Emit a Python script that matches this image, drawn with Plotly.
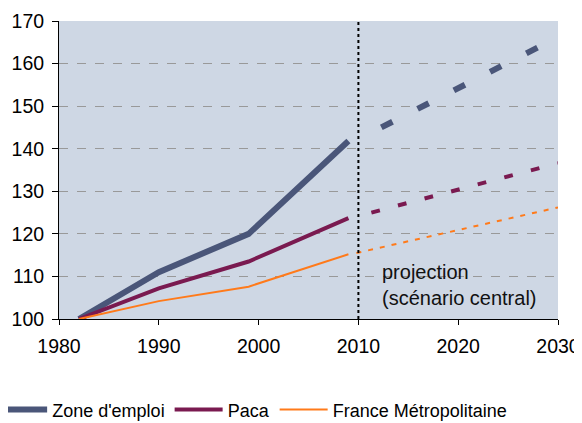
import plotly.graph_objects as go

# observed values (index 100 = 1982)
years_obs = [1982, 1990, 1999, 2009]
zone_obs = [100, 111, 120, 141.8]
paca_obs = [100, 107.2, 113.5, 123.7]
france_obs = [100, 104.2, 107.6, 115.2]

# projections (scénario central), from the first drawn dash to the last
zone_proj_years = [2012.3, 2028]
zone_proj = [145.0, 163.8]
paca_proj_years = [2011.3, 2030]
paca_proj = [125.0, 136.6]
france_proj_years = [2009.8, 2030]
france_proj = [115.5, 126.2]

names = ["Zone d'emploi", "Paca", "France Métropolitaine"]
colors = ["#4A5679", "#7A1A50", "#FF7A1A"]
widths = [6, 4, 2]

fig = go.Figure()

obs = [zone_obs, paca_obs, france_obs]
proj = [(zone_proj_years, zone_proj), (paca_proj_years, paca_proj), (france_proj_years, france_proj)]
dashes = ["12.5px,28.2px", "8.8px,18.7px", "5px,7px"]

for i in range(3):
    fig.add_trace(go.Scatter(x=years_obs, y=obs[i], mode="lines", name=names[i],
                             line=dict(color=colors[i], width=widths[i])))
    fig.add_trace(go.Scatter(x=proj[i][0], y=proj[i][1], mode="lines", showlegend=False,
                             line=dict(color=colors[i], width=widths[i], dash=dashes[i])))

# vertical separator at 2010
fig.add_shape(type="line", x0=2010, x1=2010, y0=100, y1=170, xref="x", yref="y",
              line=dict(color="black", width=2, dash="dot"))

fig.add_annotation(x=2012.2, y=108.1, xref="x", yref="y", xanchor="left", yanchor="middle",
                   text="projection<br>(scénario central)", showarrow=False, align="left",
                   font=dict(size=20, color="#111111"))

# the page body has an 8px margin, so the figure is a bit smaller than the window
fig.update_layout(
    width=574, height=415,
    margin=dict(l=51, r=24, t=13, b=104, autoexpand=False),
    paper_bgcolor="white",
    plot_bgcolor="#CED7E4",
    font=dict(family="Liberation Sans, Arial, sans-serif", size=19.5, color="black"),
    showlegend=True,
    legend=dict(orientation="h", x=-0.13, y=-0.243, xanchor="left", yanchor="top",
                font=dict(size=18), itemwidth=48, tracegroupgap=0),
)
fig.update_xaxes(range=[1980, 2030], tickvals=[1980, 1990, 2000, 2010, 2020, 2030],
                 showgrid=False, zeroline=False, showline=True, linecolor="black", linewidth=1,
                 ticks="outside", ticklen=5, tickcolor="black", automargin=False,
                 ticklabelstandoff=5)
fig.update_yaxes(range=[100, 170], dtick=10, showgrid=True, gridcolor="#999999", griddash="dash",
                 gridwidth=1, zeroline=False, showline=True, linecolor="black", linewidth=1,
                 ticks="outside", ticklen=6, tickcolor="black", automargin=False,
                 ticklabelstandoff=4)

fig.write_html("out.html")
